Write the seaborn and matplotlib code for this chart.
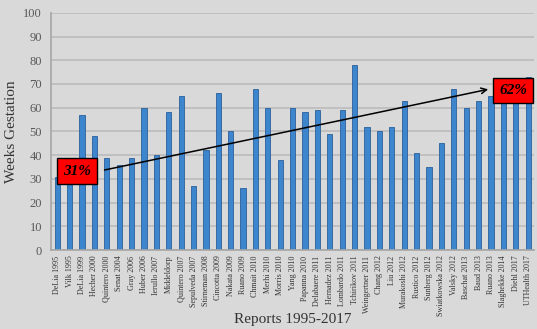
# Weeks gestation at treatment across TTTS reports, 1995-2017
import pandas as pd
import matplotlib.pyplot as plt
import seaborn as sns

reports = ["DeLia 1995", "Vilk 1995", "DeLia 1999", "Hecher 2000", "Quintero 2000",
           "Senat 2004", "Gray 2006", "Huber 2006", "Ierullo 2007", "Middeldorp",
           "Quintero 2007", "Sepulveda 2007", "Stirneman 2008", "Cincotta 2009",
           "Nakata 2009", "Ruano 2009", "Chmait 2010", "Merhi 2010", "Morris 2010",
           "Yang 2010", "Papanna 2010", "Delabaere 2011", "Hernadez 2011",
           "Lombardo 2011", "Tchirikov 2011", "Weingertner 2011", "Chang 2012",
           "Liu 2012", "Murakoshi 2012", "Rustico 2012", "Sunberg 2012",
           "Swiatkowska 2012", "Valsky 2012", "Baschat 2013", "Baud 2013",
           "Ruano 2013", "Slaghekke 2014", "Diehl 2017", "UTHealth 2017"]
weeks = [31, 33, 57, 48, 39, 36, 39, 60, 40, 58,
         65, 27, 42, 66, 50, 26, 68, 60, 38, 60,
         58, 59, 49, 59, 78, 52, 50, 52, 63, 41,
         35, 45, 68, 60, 63, 65, 66, 64, 73]

# trend annotation (start/end labels and arrow ends in data units)
trend_labels = ["31%", "62%"]
trend_x = [3.6, 35.0]
trend_y = [33.5, 68.0]
label_x = [1.6, 36.8]
label_y = [33.3, 67.4]

df = pd.DataFrame({"Report": reports, "Weeks": weeks})

sns.set_style("whitegrid", {"axes.facecolor": "#d9d9d9", "figure.facecolor": "#d9d9d9",
                            "grid.color": "#bcbcbc", "axes.edgecolor": "#a6a6a6"})
plt.rcParams["font.family"] = ["Liberation Serif", "DejaVu Serif"]

fig = plt.figure(figsize=(5.37, 3.29), dpi=100)
ax = fig.add_axes([0.095, 0.24, 0.90, 0.721])

sns.barplot(data=df, x="Report", y="Weeks", color="#3d85cc", width=0.42,
            edgecolor="#2b5f99", linewidth=0.6, saturation=1, ax=ax)

ax.set_ylim(0, 100)
ax.set_xlim(-0.5, len(reports) - 0.5)
ax.set_yticks(range(0, 101, 10))
ax.grid(axis="x", visible=False)
ax.grid(axis="y", linewidth=1.2)
for side in ["top", "right"]:
    ax.spines[side].set_visible(False)
ax.spines["left"].set_linewidth(1.2)
ax.spines["bottom"].set_linewidth(1.2)

ax.tick_params(axis="y", labelsize=9, colors="#595959", length=3)
ax.tick_params(axis="x", labelsize=5.8, colors="#333333", length=0, pad=4)
plt.setp(ax.get_xticklabels(), rotation=90)

ax.set_ylabel("Weeks Gestation", fontsize=11, color="#333333", labelpad=4)
ax.set_xlabel("Reports 1995-2017", fontsize=11, color="#333333")
ax.xaxis.set_label_coords(0.5, -0.265)

# trend arrow with start/end boxes
ax.annotate("", xy=(trend_x[1], trend_y[1]), xytext=(trend_x[0], trend_y[0]),
            arrowprops=dict(arrowstyle="->", color="black", lw=1.1))
for lbl, lx, ly in zip(trend_labels, label_x, label_y):
    ax.text(lx, ly, lbl, ha="center", va="center", fontsize=11, fontweight="bold",
            fontstyle="italic", color="black", zorder=5,
            bbox=dict(boxstyle="square,pad=0.4", facecolor="#ff0000",
                      edgecolor="black", linewidth=1))

plt.savefig("out.png", dpi=100)
